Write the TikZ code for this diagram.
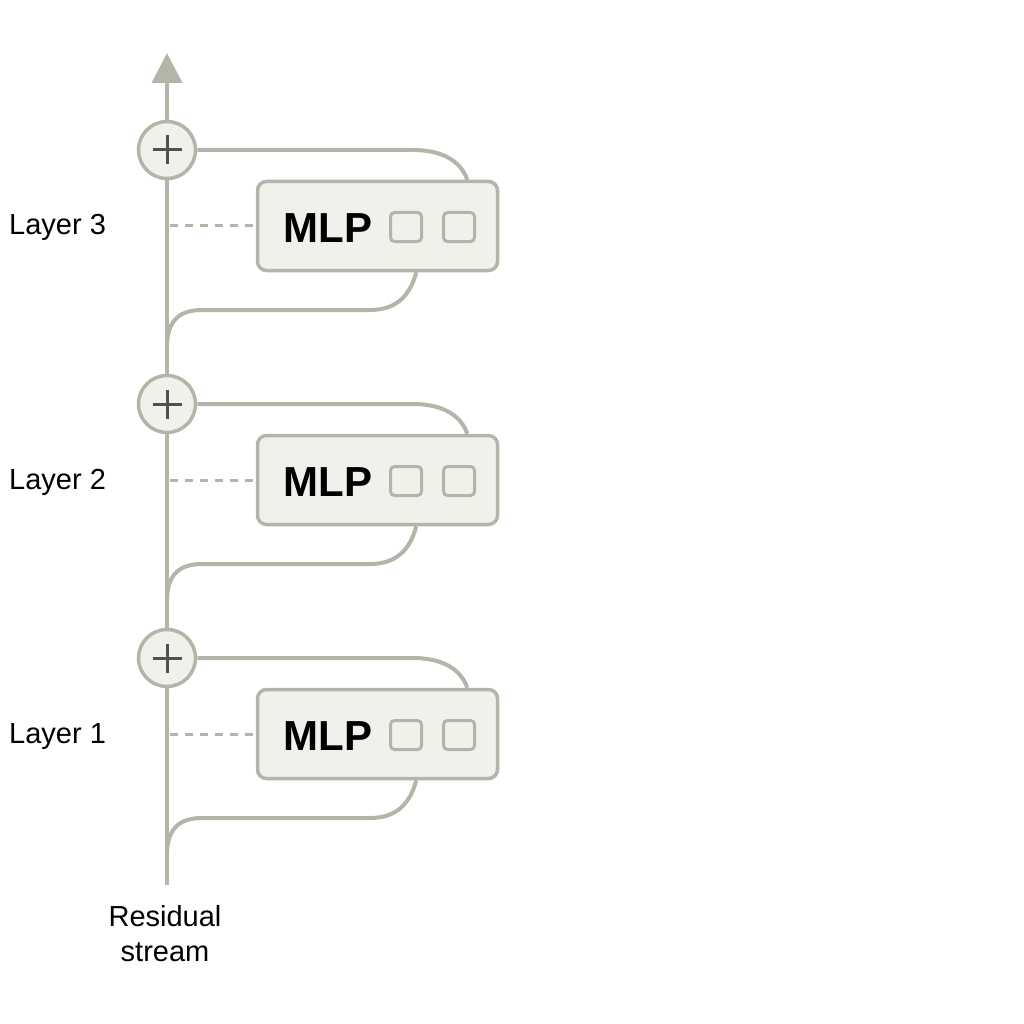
\documentclass[tikz,border=0pt]{standalone}
\usepackage{fontspec}
\setmainfont{Liberation Sans}
\usetikzlibrary{arrows.meta,calc}
\definecolor{ln}{HTML}{B4B4A8}
\definecolor{dashc}{HTML}{B4B4A8}
\definecolor{bx}{HTML}{F1F1EC}
\definecolor{pl}{HTML}{505050}
\tikzset{
  wire/.style={draw=ln,line width=4pt},
  addnode/.style={circle,draw=ln,fill=bx,line width=3.5pt,minimum size=57pt,inner sep=0pt},
  mlpbox/.style={draw=ln,fill=bx,line width=3.5pt,rounded corners=9pt,minimum width=240pt,minimum height=89pt,inner sep=0pt},
  cell/.style={draw=ln,fill=bx,line width=3pt,rounded corners=4pt,minimum width=31pt,minimum height=29pt,inner sep=0pt},
  layerlabel/.style={font=\fontsize{29}{34}\selectfont,anchor=base west,inner sep=0pt},
  mlptext/.style={font=\fontsize{42}{46}\selectfont\bfseries,inner sep=0pt,anchor=base},
  dashline/.style={draw=dashc,line width=3pt,dash pattern=on 8pt off 7pt},
  plusline/.style={draw=pl,line width=3pt},
}
\begin{document}
\begin{tikzpicture}[x=1pt,y=-1pt]
\useasboundingbox (0,0) rectangle (1024,1024);
\coordinate (start) at (167,885);
\coordinate (tip) at (167,53);
\foreach \n/\dy/\lab in {3/0/Layer 3,2/254/Layer 2,1/508/Layer 1}{
  \node[addnode] (add\n) at (167,150+\dy) {};
  \draw[plusline] ($(add\n)+(-14.5,0)$) -- ($(add\n)+(14.5,0)$);
  \draw[plusline] ($(add\n)+(0,-14.5)$) -- ($(add\n)+(0,14.5)$);
  \node[mlpbox] (box\n) at (377.5,226+\dy) {};
  \node[mlptext] (mlp\n) at (328,242+\dy) {MLP};
  \node[cell] (ca\n) at (406,227+\dy) {};
  \node[cell] (cb\n) at (459,227+\dy) {};
  \node[layerlabel] (lab\n) at (9,235+\dy) {\lab};
  \coordinate (dl\n) at (170,226+\dy);
  \draw[dashline] (dl\n) -- (box\n.west);
  \coordinate (tin\n) at ($(box\n.north east)+(-32,0)$);
  \coordinate (bout\n) at ($(box\n.south east)+(-83,0)$);
  \coordinate (merge\n) at (167,347+\dy);
  \draw[wire] (add\n.east) -- (413,150+\dy) .. controls (446,150+\dy) and (462,164+\dy) .. (tin\n);
  \draw[wire] (bout\n) .. controls (410,296+\dy) and (396,310+\dy) .. (370,310+\dy)
     -- (202,310+\dy) .. controls (178,310+\dy) and (167,322+\dy) .. (merge\n);
}
\draw[wire] (start) -- (add1.south);
\draw[wire] (add1.north) -- (add2.south);
\draw[wire] (add2.north) -- (add3.south);
\draw[wire,-{Triangle[length=30pt,width=30pt]},ln] (add3.north) -- (tip);
\node[font=\fontsize{29}{35}\selectfont,align=center,inner sep=0pt] (res) at (165,934) {Residual\\stream};
\end{tikzpicture}
\end{document}
